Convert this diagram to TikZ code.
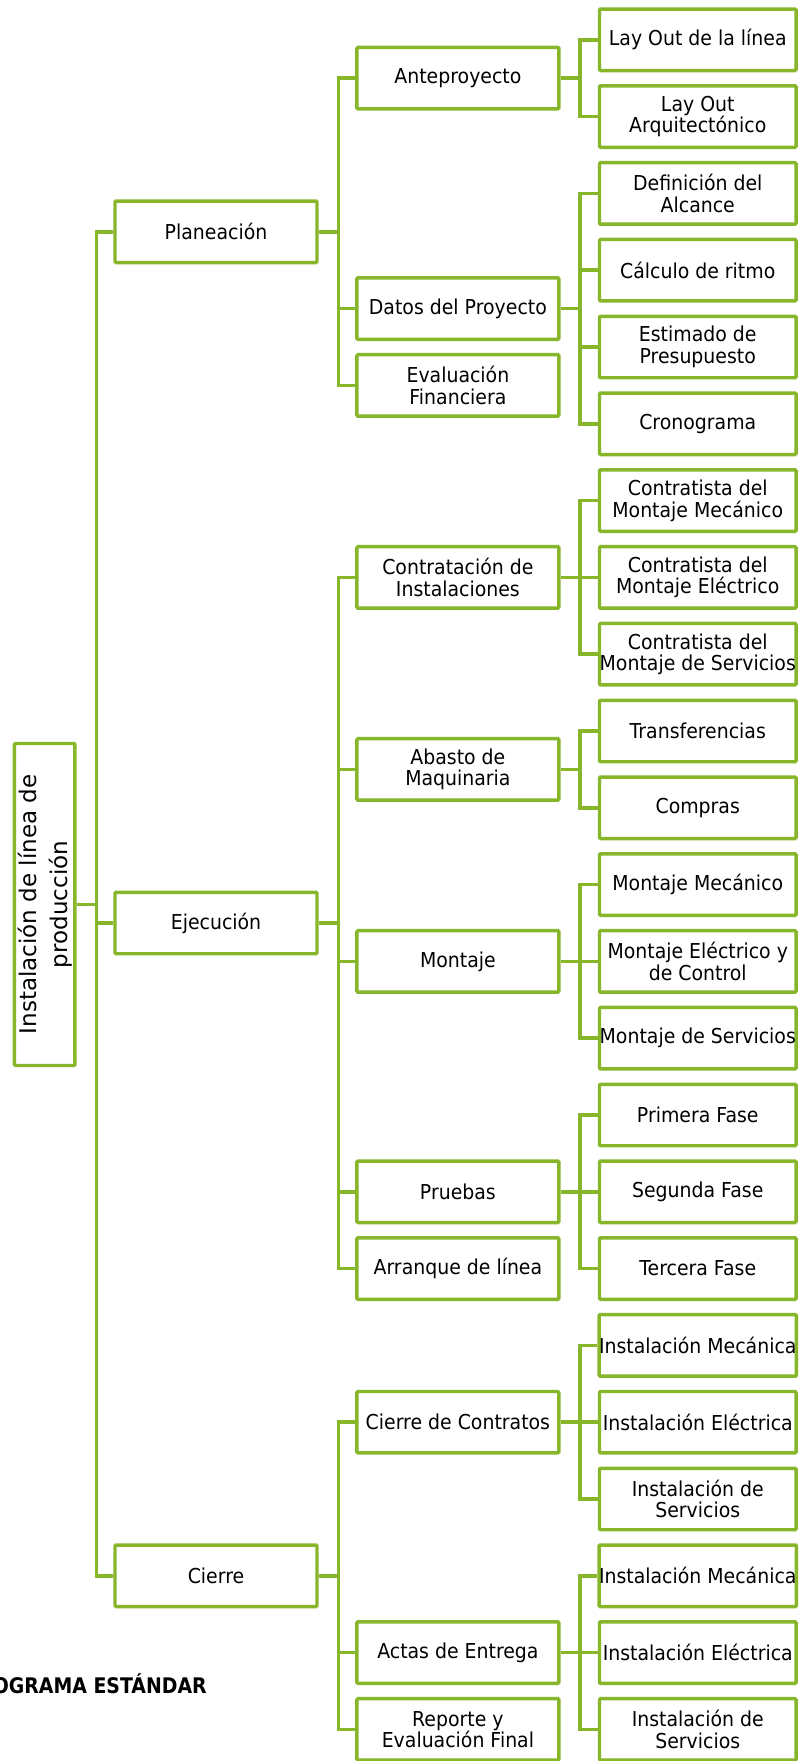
\documentclass[tikz,border=0pt]{standalone}
\usepackage{fontspec}
\newfontfamily\boxfont{DejaVu Sans}[FakeStretch=0.92]
\newfontfamily\rootfont{DejaVu Sans}
\newfontfamily\notefont{DejaVu Sans}[FakeStretch=0.88]
\definecolor{brand}{RGB}{135,182,43}
\tikzset{
  box/.style={draw=brand, line width=2.6pt, fill=white, rounded corners=0.8pt,
    inner sep=0pt, align=center, text=black, minimum height=46.1pt,
    font={\boxfont\fontsize{15.4pt}{16.1pt}\selectfont}},
  topbox/.style={box, minimum width=151.5pt},
  midbox/.style={box, minimum width=151.4pt},
  leafbox/.style={box, minimum width=147.4pt},
  rootbox/.style={box, rotate=90, minimum width=241.5pt, minimum height=45.4pt,
    font={\rootfont\fontsize{17.25pt}{23.25pt}\selectfont}},
  link/.style={draw=brand, line width=2.6pt, line join=miter},
}
\begin{document}
\begin{tikzpicture}[x=0.75pt,y=-0.75pt]
\useasboundingbox (0,0) rectangle (800,1761);

% root
\node[rootbox] (root) at (44.7,904.5) {Instalación de línea de\\producción};

% first level
\node[topbox] (plan) at (216,231.8) {Planeación};
\node[topbox] (ejec) at (216,923.0) {Ejecución};
\node[topbox] (cier) at (216,1575.8) {Cierre};

% second level
\node[midbox] (ante)  at (457.9,78.2)   {Anteproyecto};
\node[midbox] (datos) at (457.9,308.6)  {Datos del Proyecto};
\node[midbox] (eval)  at (457.9,385.4)  {Evaluación\\Financiera};
\node[midbox] (contr) at (457.9,577.4)  {Contratación de\\Instalaciones};
\node[midbox] (abas)  at (457.9,769.4)  {Abasto de\\Maquinaria};
\node[midbox] (mont)  at (457.9,961.4)  {Montaje};
\node[midbox] (prue)  at (457.9,1191.8) {Pruebas};
\node[midbox] (arra)  at (457.9,1268.6) {Arranque de línea};
\node[midbox] (cc)    at (457.9,1422.2) {Cierre de Contratos};
\node[midbox] (actas) at (457.9,1652.6) {Actas de Entrega};
\node[midbox] (rep)   at (457.9,1729.4) {Reporte y\\Evaluación Final};

% third level
\node[leafbox] (l1)  at (697.75,39.8)   {Lay Out de la línea};
\node[leafbox] (l2)  at (697.75,116.6)  {Lay Out\\Arquitectónico};
\node[leafbox] (l3)  at (697.75,193.4)  {Definición del\\Alcance};
\node[leafbox] (l4)  at (697.75,270.2)  {Cálculo de ritmo};
\node[leafbox] (l5)  at (697.75,347.0)  {Estimado de\\Presupuesto};
\node[leafbox] (l6)  at (697.75,423.8)  {Cronograma};
\node[leafbox] (l7)  at (697.75,500.6)  {Contratista del\\Montaje Mecánico};
\node[leafbox] (l8)  at (697.75,577.4)  {Contratista del\\Montaje Eléctrico};
\node[leafbox] (l9)  at (697.75,654.2)  {Contratista del\\Montaje de Servicios};
\node[leafbox] (l10) at (697.75,731.0)  {Transferencias};
\node[leafbox] (l11) at (697.75,807.8)  {Compras};
\node[leafbox] (l12) at (697.75,884.6)  {Montaje Mecánico};
\node[leafbox] (l13) at (697.75,961.4)  {Montaje Eléctrico y\\de Control};
\node[leafbox] (l14) at (697.75,1038.2) {Montaje de Servicios};
\node[leafbox] (l15) at (697.75,1115.0) {Primera Fase};
\node[leafbox] (l16) at (697.75,1191.8) {Segunda Fase};
\node[leafbox] (l17) at (697.75,1268.6) {Tercera Fase};
\node[leafbox] (l18) at (697.75,1345.4) {Instalación Mecánica};
\node[leafbox] (l19) at (697.75,1422.2) {Instalación Eléctrica};
\node[leafbox] (l20) at (697.75,1499.0) {Instalación de\\Servicios};
\node[leafbox] (l21) at (697.75,1575.8) {Instalación Mecánica};
\node[leafbox] (l22) at (697.75,1652.6) {Instalación Eléctrica};
\node[leafbox] (l23) at (697.75,1729.4) {Instalación de\\Servicios};

% caption fragment
\node[anchor=base east, inner sep=0pt, text=black,
  font={\notefont\bfseries\fontsize{16.1pt}{19pt}\selectfont}] (note) at (207,1693) {OGRAMA ESTÁNDAR};

% connectors
\foreach \c in {plan,ejec,cier} \draw[link] (root.south) -- ++(20,0) |- (\c.west);
\foreach \c in {ante,datos,eval} \draw[link] (plan.east) -- ++(20,0) |- (\c.west);
\foreach \c in {contr,abas,mont,prue,arra} \draw[link] (ejec.east) -- ++(20,0) |- (\c.west);
\foreach \c in {cc,actas,rep} \draw[link] (cier.east) -- ++(20,0) |- (\c.west);
\foreach \c in {l1,l2} \draw[link] (ante.east) -- ++(19.2,0) |- (\c.west);
\foreach \c in {l3,l4,l5,l6} \draw[link] (datos.east) -- ++(19.2,0) |- (\c.west);
\foreach \c in {l7,l8,l9} \draw[link] (contr.east) -- ++(19.2,0) |- (\c.west);
\foreach \c in {l10,l11} \draw[link] (abas.east) -- ++(19.2,0) |- (\c.west);
\foreach \c in {l12,l13,l14} \draw[link] (mont.east) -- ++(19.2,0) |- (\c.west);
\foreach \c in {l15,l16,l17} \draw[link] (prue.east) -- ++(19.2,0) |- (\c.west);
\foreach \c in {l18,l19,l20} \draw[link] (cc.east) -- ++(19.2,0) |- (\c.west);
\foreach \c in {l21,l22,l23} \draw[link] (actas.east) -- ++(19.2,0) |- (\c.west);
\end{tikzpicture}
\end{document}
